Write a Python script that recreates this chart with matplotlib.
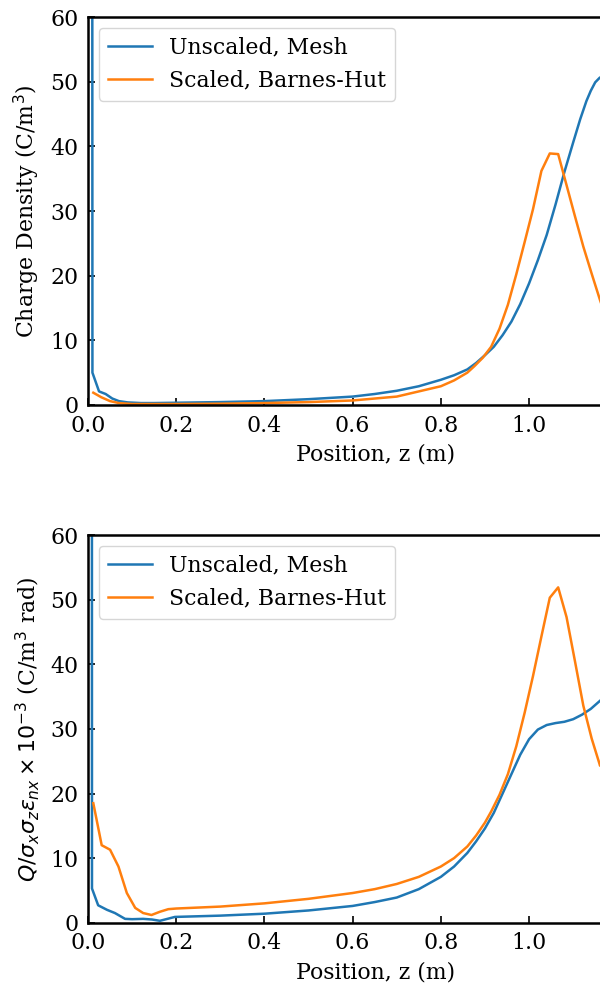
import matplotlib
matplotlib.use("Agg")
import matplotlib.pyplot as plt

# ---- data (top panel: charge density) ----
top_mesh_z = [0.008, 0.010, 0.025, 0.04, 0.055, 0.07, 0.09, 0.12, 0.15, 0.2, 0.3, 0.4, 0.5, 0.6,
              0.65, 0.7, 0.75, 0.8, 0.83, 0.86, 0.88, 0.90, 0.92, 0.94, 0.96, 0.98, 1.00, 1.02,
              1.04, 1.06, 1.08, 1.10, 1.116, 1.13, 1.14, 1.15, 1.16, 1.17, 1.19]
top_mesh_rho = [400, 5.0, 2.1, 1.7, 1.0, 0.6, 0.4, 0.3, 0.3, 0.35, 0.45, 0.6, 0.9, 1.3,
                1.7, 2.2, 2.9, 3.9, 4.6, 5.5, 6.5, 7.7, 9.0, 10.8, 12.9, 15.6, 18.8, 22.4,
                26.3, 31.0, 36.0, 40.6, 44.2, 47.0, 48.6, 49.9, 50.6, 51.0, 51.0]

top_bh_z = [0.012, 0.03, 0.05, 0.07, 0.1, 0.2, 0.3, 0.4, 0.5, 0.6, 0.7, 0.8, 0.83, 0.86,
            0.876, 0.895, 0.914, 0.933, 0.952, 0.971, 0.990, 1.009, 1.028, 1.047, 1.066,
            1.085, 1.104, 1.123, 1.142, 1.161, 1.18, 1.2]
top_bh_rho = [1.9, 1.2, 0.6, 0.3, 0.15, 0.15, 0.2, 0.3, 0.45, 0.7, 1.3, 2.9, 3.8, 5.0,
              6.0, 7.3, 9.0, 11.8, 15.5, 20.2, 25.2, 30.3, 36.2, 38.9, 38.8,
              34.0, 29.2, 24.5, 20.3, 16.2, 12.5, 10.0]

# ---- data (bottom panel: normalized charge) ----
bot_mesh_z = [0.008, 0.009, 0.023, 0.043, 0.061, 0.084, 0.10, 0.125, 0.145, 0.163, 0.18, 0.197,
              0.3, 0.4, 0.5, 0.6, 0.65, 0.70, 0.75, 0.80, 0.83, 0.86, 0.88, 0.90, 0.92, 0.94,
              0.96, 0.98, 1.00, 1.02, 1.04, 1.06, 1.08, 1.10, 1.12, 1.14, 1.16, 1.18, 1.2]
bot_mesh_q = [400, 5.3, 2.7, 2.0, 1.5, 0.6, 0.55, 0.6, 0.5, 0.3, 0.6, 0.9,
              1.1, 1.4, 1.9, 2.6, 3.2, 3.9, 5.2, 7.1, 8.7, 10.8, 12.6, 14.6, 17.0, 20.0,
              23.0, 26.0, 28.4, 29.9, 30.6, 30.9, 31.1, 31.5, 32.2, 33.1, 34.3, 35.5, 36.5]

bot_bh_z = [0.012, 0.031, 0.05, 0.069, 0.088, 0.107, 0.125, 0.144, 0.163, 0.182, 0.2, 0.3,
            0.4, 0.5, 0.6, 0.65, 0.7, 0.75, 0.8, 0.83, 0.86, 0.88, 0.90, 0.914, 0.933,
            0.952, 0.971, 0.990, 1.009, 1.028, 1.047, 1.066, 1.085, 1.104, 1.123, 1.142,
            1.161, 1.18, 1.2]
bot_bh_q = [18.5, 12.0, 11.3, 8.7, 4.6, 2.3, 1.5, 1.2, 1.7, 2.1, 2.2, 2.5,
            3.0, 3.7, 4.6, 5.2, 6.0, 7.1, 8.7, 10.0, 11.8, 13.5, 15.5, 17.2, 19.8,
            23.0, 27.3, 32.5, 38.2, 44.3, 50.3, 51.9, 47.3, 40.5, 33.6, 28.5,
            24.3, 30.0, 34.0]

labels = ["Unscaled, Mesh", "Scaled, Barnes-Hut"]
xticks = [0.0, 0.2, 0.4, 0.6, 0.8, 1.0]
yticks = [0, 10, 20, 30, 40, 50, 60]

FS = 15.8
plt.rcParams['font.family'] = ['DejaVu Serif']
plt.rcParams['font.size'] = FS

fig = plt.figure(figsize=(6.0, 9.83), dpi=100)
W = 0.96
ax1 = fig.add_axes([0.1467, 0.588, W, 0.3947])
ax2 = fig.add_axes([0.1467, 0.0613, W, 0.3944])

c_blue = '#1f77b4'
c_orange = '#ff7f0e'

def style(ax):
    ax.set_xlim(0, 1.306)
    ax.set_ylim(0, 60)
    ax.set_xticks(xticks)
    ax.set_yticks(yticks)
    ax.tick_params(direction='in', length=5, width=1.2, labelsize=FS, pad=7)
    for s in ax.spines.values():
        s.set_linewidth(1.8)
    ax.set_xlabel('Position, z (m)', fontsize=FS, labelpad=5)
    ax.legend(loc='upper left', fontsize=FS)

ax1.plot(top_mesh_z, top_mesh_rho, color=c_blue, lw=1.8, label=labels[0])
ax1.plot(top_bh_z, top_bh_rho, color=c_orange, lw=1.8, label=labels[1])
ax1.set_ylabel('Charge Density (C/m$^3$)', fontsize=FS, labelpad=6)
style(ax1)

ax2.plot(bot_mesh_z, bot_mesh_q, color=c_blue, lw=1.8, label=labels[0])
ax2.plot(bot_bh_z, bot_bh_q, color=c_orange, lw=1.8, label=labels[1])
ax2.set_ylabel(r'$Q/\sigma_x\sigma_z\epsilon_{nx}\times10^{-3}$ (C/m$^3$ rad)', fontsize=FS, labelpad=6)
style(ax2)

fig.savefig('out.png', dpi=100)
